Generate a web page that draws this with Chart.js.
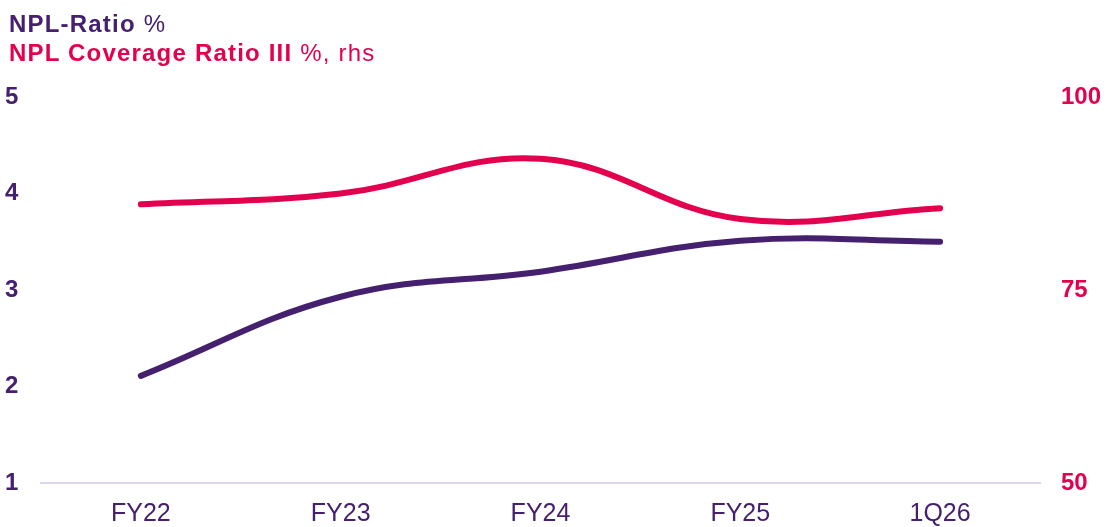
<!DOCTYPE html>
<html lang="en">
<head>
    <meta charset="UTF-8">
    <title>NPL Ratio</title>
    <style>
        body {
            margin: 0;
            background: white;
            font-family: "Liberation Sans", Arial, sans-serif;
        }
        #wrap {
            position: relative;
            width: 1108px;
            height: 527px;
        }
        .title {
            position: absolute;
            left: 9px;
            font-size: 24px;
            letter-spacing: 1.2px;
            line-height: 1;
            white-space: nowrap;
        }
        .title b { font-weight: bold; }
        #t1 { top: 12px; color: #44206f; }
        #t2 { top: 41px; color: #e3004f; }
        canvas { position: absolute; left: 0; top: 0; }
    </style>
    <script src="https://cdn.jsdelivr.net/npm/chart.js"></script>
</head>
<body>
    <div id="wrap">
        <canvas id="nplChart" width="1108" height="527"></canvas>
        <div class="title" id="t1"><b>NPL-Ratio</b> %</div>
        <div class="title" id="t2"><b>NPL Coverage Ratio III</b> %, rhs</div>
    </div>
    <script>
        const periods = ['FY22', 'FY23', 'FY24', 'FY25', '1Q26'];
        const nplRatio = [2.11, 2.93, 3.19, 3.51, 3.50];
        const coverageRatio = [86.1, 87.5, 92.0, 84.2, 85.6];
        const leftTicks = [1, 2, 3, 4, 5];
        const rightTicks = [50, 75, 100];

        const purple = '#44206f';
        const pink = '#e3004f';

        new Chart(document.getElementById('nplChart').getContext('2d'), {
            type: 'line',
            data: {
                labels: periods,
                datasets: [{
                    label: 'NPL-Ratio %',
                    data: nplRatio,
                    borderColor: purple,
                    borderWidth: 6,
                    borderCapStyle: 'round',
                    pointRadius: 0,
                    tension: 0.4,
                    yAxisID: 'y'
                }, {
                    label: 'NPL Coverage Ratio III %, rhs',
                    data: coverageRatio,
                    borderColor: pink,
                    borderWidth: 6,
                    borderCapStyle: 'round',
                    pointRadius: 0,
                    tension: 0.4,
                    yAxisID: 'y1'
                }]
            },
            options: {
                responsive: false,
                animation: false,
                layout: { padding: { top: 97, left: 5, right: 0, bottom: 0 } },
                plugins: { legend: { display: false }, tooltip: { enabled: false } },
                scales: {
                    x: {
                        offset: true,
                        grid: { display: false, drawTicks: false },
                        border: { display: true, color: '#ddd5ee', width: 2 },
                        ticks: { color: purple, font: { family: 'Liberation Sans', size: 25 }, padding: 16, maxRotation: 0 },
                        afterFit: s => { s.height = 44; }
                    },
                    y: {
                        position: 'left',
                        min: 1, max: 5,
                        afterBuildTicks: s => { s.ticks = leftTicks.map(v => ({ value: v })); },
                        grid: { display: false, drawTicks: false },
                        border: { display: false },
                        ticks: { color: purple, crossAlign: 'far', font: { family: 'Liberation Sans', size: 24, weight: 'bold' } },
                        afterFit: s => { s.width = 36; }
                    },
                    y1: {
                        position: 'right',
                        min: 50, max: 100,
                        afterBuildTicks: s => { s.ticks = rightTicks.map(v => ({ value: v })); },
                        grid: { display: false, drawTicks: false },
                        border: { display: false },
                        ticks: { color: pink, padding: 21, font: { family: 'Liberation Sans', size: 24, weight: 'bold' } },
                        afterFit: s => { s.width = 68; }
                    }
                }
            }
        });
    </script>
</body>
</html>
